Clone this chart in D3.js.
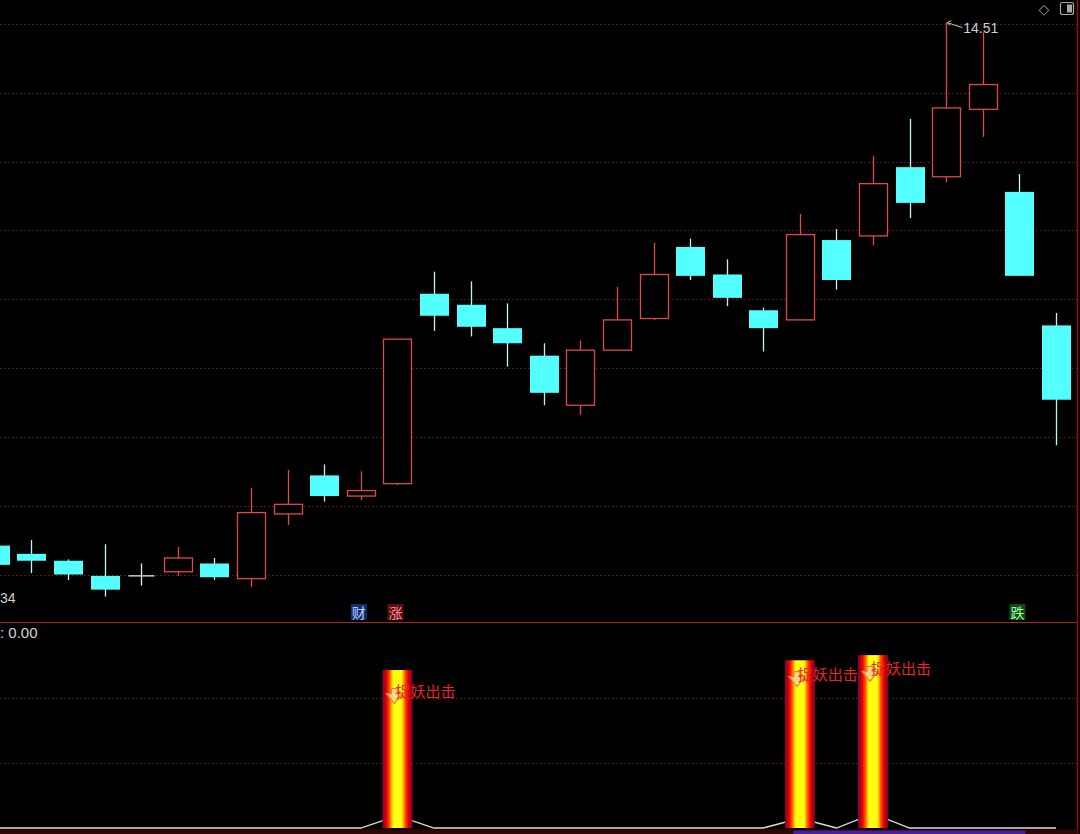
<!DOCTYPE html>
<html>
<head>
<meta charset="utf-8">
<script src="https://cdn.jsdelivr.net/npm/d3@7/dist/d3.min.js"></script>
<style>
  html, body { margin: 0; padding: 0; background: #000; overflow: hidden; }
  svg { display: block; }
</style>
</head>
<body>
<svg id="chart"></svg>
<script>
// all sizes here, nothing depends on data
var width = 1080;
var height = 834;
var topPane = {top: 24, bottom: 574.5};
var lowPane = {top: 623, bottom: 828};
var rightEdge = 1077.5;

// daily candles
var opens  = [10.71,10.65,10.60,10.49,10.49,10.52,10.58,10.47,10.94,11.22,11.07,11.16,12.54,12.46,12.29,12.09,11.73,12.13,12.36,12.88,12.68,12.42,12.35,12.93,12.96,13.46,13.39,13.88,13.28,12.31];
var highs  = [10.74,10.75,10.61,10.72,10.58,10.70,10.62,11.13,11.26,11.30,11.25,12.21,12.70,12.63,12.47,12.18,12.20,12.59,12.91,12.94,12.79,12.44,13.12,13.01,13.54,13.81,14.51,14.44,13.41,12.40];
var lows   = [10.55,10.51,10.46,10.34,10.42,10.49,10.46,10.41,10.86,11.03,11.04,11.15,12.27,12.23,12.01,11.73,11.66,12.13,12.35,12.64,12.45,12.12,12.35,12.57,12.89,13.09,13.35,13.68,12.67,11.44];
var closes = [10.57,10.60,10.50,10.39,10.49,10.62,10.48,10.95,11.01,11.07,11.11,12.21,12.38,12.30,12.18,11.82,12.13,12.35,12.68,12.67,12.51,12.29,12.97,12.64,13.34,13.20,13.89,14.06,12.67,11.77];

var priceGrid = [14.5, 14.0, 13.5, 13.0, 12.5, 12.0, 11.5, 11.0, 10.5];
var highLabel = "14.51";
var lowLabel = "34";   // only the tail of the low price shows at the left edge

// flags under the candles
var flagIdx  = [10, 11, 28];
var flagText = ["财", "涨", "跌"];

// lower indicator pane
var barVals  = [0,0,0,0,0,0,0,0,0,0,0,121.5,0,0,0,0,0,0,0,0,0,0,129,0,133,0,0,0,0,0];
var lineVals = [0,0,0,0,0,0,0,0,0,0,0,9.5,0,0,0,0,0,0,0,0,0,0,7.5,0,11,0,0,0,0,0];
var labelVals = [0,0,0,0,0,0,0,0,0,0,0,105,0,0,0,0,0,0,0,0,0,0,118,0,122,0,0,0,0,0];
var lowGrid = [50, 100];
var signalText = "捉妖出击";
var lowTitle = ": 0.00";

var svg = d3.select("#chart")
    .attr("width", width)
    .attr("height", height)
    .style("background", "#000");

var x = d3.scaleLinear()
    .domain([0, opens.length - 1])
    .range([-5.1, 1056]);

var y = d3.scaleLinear()
    .domain([10.5, 14.5])
    .range([topPane.bottom, topPane.top]);

var yLow = d3.scaleLinear()
    .domain([0, 100])
    .range([lowPane.bottom, 698]);

var bodyW = 28;
var upCol = "#dc4a4a";
var downCol = "#54ffff";
var gridCol = "#701c1c";

var defs = svg.append("defs");
var grad = defs.append("linearGradient")
    .attr("id", "fire")
    .attr("x1", "0%").attr("x2", "100%")
    .attr("y1", "0%").attr("y2", "0%");
var stops = [[0,"#6a0a4a"],[7,"#b00010"],[14,"#e80000"],[24,"#ff5000"],[32,"#ffd000"],[38,"#ffff10"],[62,"#ffff10"],[68,"#ffd000"],[76,"#ff5000"],[86,"#e80000"],[93,"#b00010"],[100,"#6a0a4a"]];
stops.forEach(function(s) {
    grad.append("stop").attr("offset", s[0] + "%").attr("stop-color", s[1]);
});

defs.append("clipPath").attr("id", "clipTop")
    .append("rect").attr("x", 0).attr("y", 0).attr("width", rightEdge).attr("height", 622);
defs.append("clipPath").attr("id", "clipLow")
    .append("rect").attr("x", 0).attr("y", 623).attr("width", rightEdge).attr("height", 207);

// ---- upper pane ----
var upper = svg.append("g").attr("clip-path", "url(#clipTop)");

upper.selectAll(".grid")
    .data(priceGrid)
    .enter().append("line")
    .attr("class", "grid")
    .attr("x1", 0).attr("x2", rightEdge)
    .attr("y1", function(d) { return Math.round(y(d)) + 0.5; })
    .attr("y2", function(d) { return Math.round(y(d)) + 0.5; })
    .attr("stroke", gridCol)
    .attr("stroke-width", 1)
    .attr("stroke-dasharray", "1.5,2.5");

for (var i = 0; i < opens.length; i++) {
    var cx = Math.round(x(i)) + 0.5;
    var o = opens[i], c = closes[i], hi = highs[i], lo = lows[i];
    var yTop = y(Math.max(o, c)), yBot = y(Math.min(o, c));

    if (o == c) {
        // doji cross
        upper.append("line").attr("x1", cx).attr("x2", cx)
            .attr("y1", y(hi)).attr("y2", y(lo))
            .attr("stroke", "#e8e8e8").attr("stroke-width", 1.3);
        upper.append("line").attr("x1", cx - 13).attr("x2", cx + 13)
            .attr("y1", yTop).attr("y2", yTop)
            .attr("stroke", "#e8e8e8").attr("stroke-width", 1.3);
    } else if (c > o) {
        upper.append("line").attr("x1", cx).attr("x2", cx)
            .attr("y1", y(hi)).attr("y2", yTop)
            .attr("stroke", upCol).attr("stroke-width", 1.3);
        upper.append("line").attr("x1", cx).attr("x2", cx)
            .attr("y1", yBot).attr("y2", y(lo))
            .attr("stroke", upCol).attr("stroke-width", 1.3);
        upper.append("rect")
            .attr("x", cx - bodyW / 2).attr("y", yTop)
            .attr("width", bodyW).attr("height", Math.max(1, yBot - yTop))
            .attr("fill", "#000")
            .attr("stroke", upCol).attr("stroke-width", 1.3);
    } else {
        upper.append("line").attr("x1", cx).attr("x2", cx)
            .attr("y1", y(hi)).attr("y2", y(lo))
            .attr("stroke", "#bff4f4").attr("stroke-width", 1.3);
        upper.append("rect")
            .attr("x", cx - bodyW / 2 - 0.5).attr("y", yTop)
            .attr("width", bodyW + 1).attr("height", Math.max(1, yBot - yTop))
            .attr("fill", downCol);
    }
}

// highest price marker
var hiIdx = highs.indexOf(d3.max(highs));
var hx = x(hiIdx), hy = y(highs[hiIdx]);
upper.append("line")
    .attr("x1", hx + 1).attr("y1", hy)
    .attr("x2", hx + 16).attr("y2", hy + 5)
    .attr("stroke", "#c8c8c8").attr("stroke-width", 1);
upper.append("path")
    .attr("d", "M" + (hx + 1) + "," + hy + " l4,-2 M" + (hx + 1) + "," + hy + " l3,3")
    .attr("stroke", "#c8c8c8").attr("stroke-width", 1).attr("fill", "none");
upper.append("text")
    .attr("x", hx + 17).attr("y", hy + 10.5)
    .attr("font-family", "'Liberation Sans', Arial, sans-serif")
    .attr("font-size", 14)
    .attr("fill", "#cfcfcf")
    .text(highLabel);

// low price label at the left edge
upper.append("text")
    .attr("x", 0).attr("y", 603)
    .attr("font-family", "'Liberation Sans', Arial, sans-serif")
    .attr("font-size", 14)
    .attr("fill", "#cfcfcf")
    .text(lowLabel);

// flags
var flagBg = {"财": "#12306e", "涨": "#5a0e0e", "跌": "#0e4a12"};
var flagFg = {"财": "#b8d4ff", "涨": "#ff8c8c", "跌": "#9cff9c"};
for (var f = 0; f < flagIdx.length; f++) {
    var fx = x(flagIdx[f]) - 2;
    upper.append("rect")
        .attr("x", fx - 8).attr("y", 604)
        .attr("width", 16).attr("height", 16)
        .attr("fill", flagBg[flagText[f]]);
    upper.append("text")
        .attr("x", fx).attr("y", 618)
        .attr("text-anchor", "middle")
        .attr("font-family", "'Noto Sans CJK SC', sans-serif")
        .attr("font-size", 14)
        .attr("fill", flagFg[flagText[f]])
        .text(flagText[f]);
}

// top-right icons
svg.append("text")
    .attr("x", 1044).attr("y", 14)
    .attr("text-anchor", "middle")
    .attr("font-family", "'DejaVu Sans', sans-serif")
    .attr("font-size", 14)
    .attr("fill", "#9a9a9a")
    .text("◇");
svg.append("rect")
    .attr("x", 1060.5).attr("y", 2.5).attr("width", 13).attr("height", 12).attr("rx", 2)
    .attr("fill", "none").attr("stroke", "#a8a8a8").attr("stroke-width", 1.2);
svg.append("rect")
    .attr("x", 1067).attr("y", 4.5).attr("width", 5).attr("height", 8)
    .attr("fill", "#a8a8a8");

// pane divider and right border
svg.append("line")
    .attr("x1", 0).attr("x2", rightEdge)
    .attr("y1", 622.5).attr("y2", 622.5)
    .attr("stroke", "#b01c1c").attr("stroke-width", 1);
svg.append("line")
    .attr("x1", rightEdge).attr("x2", rightEdge)
    .attr("y1", 0).attr("y2", height)
    .attr("stroke", "#8e1414").attr("stroke-width", 1.5);

// ---- lower pane ----
var lower = svg.append("g").attr("clip-path", "url(#clipLow)");

lower.selectAll(".lgrid")
    .data(lowGrid)
    .enter().append("line")
    .attr("class", "lgrid")
    .attr("x1", 0).attr("x2", rightEdge)
    .attr("y1", function(d) { return Math.round(yLow(d)) + 0.5; })
    .attr("y2", function(d) { return Math.round(yLow(d)) + 0.5; })
    .attr("stroke", gridCol)
    .attr("stroke-width", 1)
    .attr("stroke-dasharray", "1.5,2.5");

svg.append("text")
    .attr("x", 0).attr("y", 638)
    .attr("font-family", "'Liberation Sans', Arial, sans-serif")
    .attr("font-size", 15)
    .attr("fill", "#d4d4d4")
    .text(lowTitle);

var lineGen = d3.line()
    .x(function(d, i) { return x(i); })
    .y(function(d) { return yLow(d); });

lower.append("path")
    .datum(lineVals)
    .attr("d", lineGen)
    .attr("fill", "none")
    .attr("stroke", "#e4dcdc")
    .attr("stroke-width", 1.3);

for (var b = 0; b < barVals.length; b++) {
    if (barVals[b] <= 0) continue;
    var bx = x(b);
    lower.append("rect")
        .attr("x", bx - 15).attr("y", yLow(barVals[b]))
        .attr("width", 30).attr("height", yLow(0) - yLow(barVals[b]))
        .attr("fill", "url(#fire)");
}

for (var s = 0; s < labelVals.length; s++) {
    if (labelVals[s] <= 0) continue;
    var sx = x(s) - 2;
    var sy = yLow(labelVals[s]);
    lower.append("path")
        .attr("transform", "translate(" + (sx - 1) + "," + (sy + 5) + ")")
        .attr("d", "M-8,-3 L-3,-3 L-3,-8 L3,-8 L3,-3 L8,-3 L0,7 Z")
        .attr("fill", "#f8d0a0")
        .attr("fill-opacity", 0.75)
        .attr("stroke", "#e08040")
        .attr("stroke-width", 1.2);
    lower.append("text")
        .attr("x", sx).attr("y", sy + 5)
        .attr("font-family", "'Noto Sans CJK SC', sans-serif")
        .attr("font-size", 15)
        .attr("fill", "#e82424")
        .text(signalText);
}

// bottom strip
svg.append("rect")
    .attr("x", 0).attr("y", 829.5).attr("width", rightEdge).attr("height", 4.5)
    .attr("fill", "#300606");
svg.append("rect")
    .attr("x", x(21) + 30).attr("y", 830.5).attr("width", x(28) + 6 - x(21) - 30).attr("height", 3.5)
    .attr("fill", "#4a1e96");
</script>
</body>
</html>
